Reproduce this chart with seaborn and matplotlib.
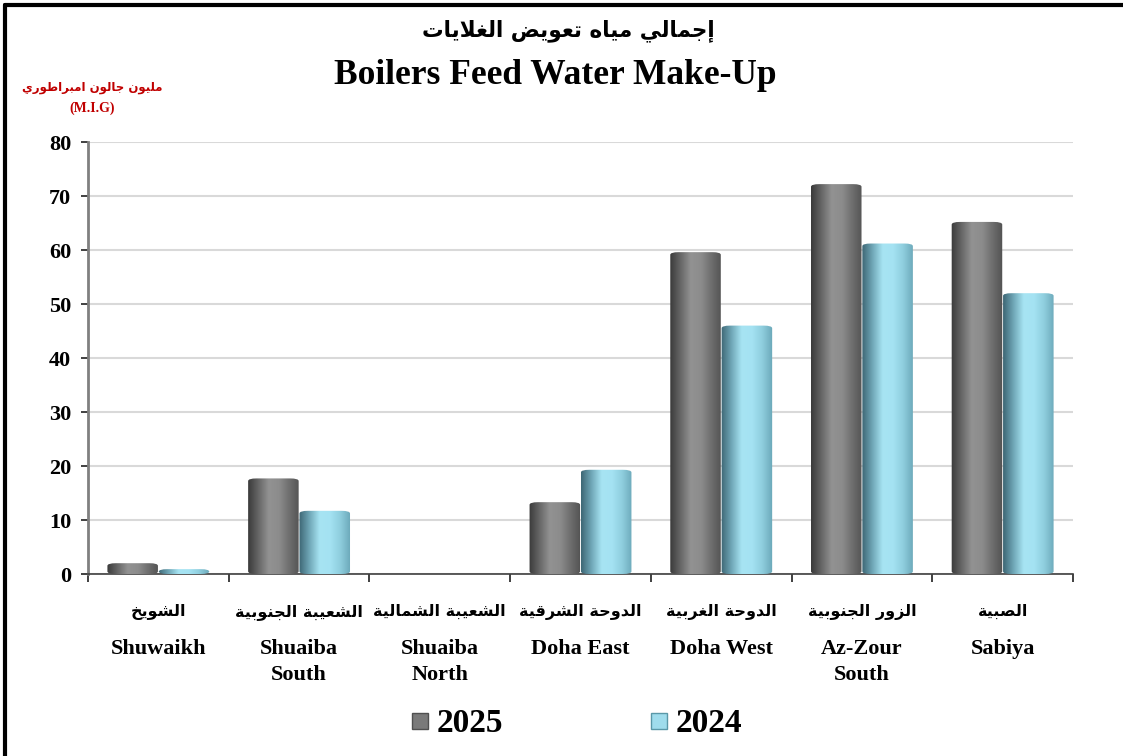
import numpy as np
import pandas as pd
import matplotlib
matplotlib.use("Agg")
import matplotlib.pyplot as plt
import seaborn as sns
from matplotlib.colors import LinearSegmentedColormap
from matplotlib.patches import FancyBboxPatch
from matplotlib.lines import Line2D

# ---------------- data ----------------
stations_ar = ["الشويخ", "الشعيبة الجنوبية", "الشعيبة الشمالية", "الدوحة الشرقية",
               "الدوحة الغربية", "الزور الجنوبية", "الصبية"]
stations_en = ["Shuwaikh", "Shuaiba\nSouth", "Shuaiba\nNorth", "Doha East",
               "Doha West", "Az-Zour\nSouth", "Sabiya"]
years = ["2025", "2024"]
values_2025 = [2.0, 17.7, 0.0, 13.3, 59.6, 72.2, 65.2]
values_2024 = [0.9, 11.7, 0.0, 19.3, 46.0, 61.2, 52.0]
yticks = [0, 10, 20, 30, 40, 50, 60, 70, 80]

title_ar = "إجمالي مياه تعويض الغلايات"
title_en = "Boilers Feed Water Make-Up"
unit_ar = "مليون جالون امبراطوري"
unit_en = "(M.I.G)"

# ------------- minimal Arabic shaping for display -------------
FORMS = {  # isolated, final, initial, medial
    "ا": ("\uFE8D", "\uFE8E", None, None),
    "إ": ("\uFE87", "\uFE88", None, None),
    "ب": ("\uFE8F", "\uFE90", "\uFE91", "\uFE92"),
    "ة": ("\uFE93", "\uFE94", None, None),
    "ت": ("\uFE95", "\uFE96", "\uFE97", "\uFE98"),
    "ج": ("\uFE9D", "\uFE9E", "\uFE9F", "\uFEA0"),
    "ح": ("\uFEA1", "\uFEA2", "\uFEA3", "\uFEA4"),
    "خ": ("\uFEA5", "\uFEA6", "\uFEA7", "\uFEA8"),
    "د": ("\uFEA9", "\uFEAA", None, None),
    "ر": ("\uFEAD", "\uFEAE", None, None),
    "ز": ("\uFEAF", "\uFEB0", None, None),
    "ش": ("\uFEB5", "\uFEB6", "\uFEB7", "\uFEB8"),
    "ص": ("\uFEB9", "\uFEBA", "\uFEBB", "\uFEBC"),
    "ض": ("\uFEBD", "\uFEBE", "\uFEBF", "\uFEC0"),
    "ط": ("\uFEC1", "\uFEC2", "\uFEC3", "\uFEC4"),
    "ع": ("\uFEC9", "\uFECA", "\uFECB", "\uFECC"),
    "غ": ("\uFECD", "\uFECE", "\uFECF", "\uFED0"),
    "ق": ("\uFED5", "\uFED6", "\uFED7", "\uFED8"),
    "ل": ("\uFEDD", "\uFEDE", "\uFEDF", "\uFEE0"),
    "م": ("\uFEE1", "\uFEE2", "\uFEE3", "\uFEE4"),
    "ن": ("\uFEE5", "\uFEE6", "\uFEE7", "\uFEE8"),
    "ه": ("\uFEE9", "\uFEEA", "\uFEEB", "\uFEEC"),
    "و": ("\uFEED", "\uFEEE", None, None),
    "ي": ("\uFEF1", "\uFEF2", "\uFEF3", "\uFEF4"),
    "لا": ("\uFEFB", "\uFEFC", None, None),
}


def shape_ar(text):
    words = []
    for w in text.split(" "):
        units = []
        i = 0
        while i < len(w):
            if w[i] == "ل" and i + 1 < len(w) and w[i + 1] == "ا":
                units.append("لا")
                i += 2
            else:
                units.append(w[i])
                i += 1
        out = []
        for k, u in enumerate(units):
            f = FORMS.get(u)
            if f is None:
                out.append(u)
                continue
            prev = FORMS.get(units[k - 1]) if k > 0 else None
            nxt = FORMS.get(units[k + 1]) if k + 1 < len(units) else None
            join_prev = prev is not None and prev[2] is not None
            join_next = nxt is not None and f[2] is not None
            if join_prev and join_next:
                out.append(f[3])
            elif join_prev:
                out.append(f[1])
            elif join_next:
                out.append(f[2])
            else:
                out.append(f[0])
        words.append("".join(out))
    return " ".join(words)[::-1]


# ---------------- figure ----------------
sns.set_theme(style="white")
plt.rcParams["font.family"] = ["Liberation Serif", "DejaVu Sans"]
plt.rcParams["font.weight"] = "bold"
plt.rcParams["text.color"] = "black"
plt.rcParams["xtick.color"] = "black"
plt.rcParams["ytick.color"] = "black"
plt.rcParams["axes.labelcolor"] = "black"

fig = plt.figure(figsize=(11.23, 7.56), dpi=100)
ax = fig.add_axes([88 / 1123, 1 - 574 / 756, (1073 - 88) / 1123, (574 - 142) / 756])

df = pd.DataFrame({
    "station": stations_en * 2,
    "year": [years[0]] * len(stations_en) + [years[1]] * len(stations_en),
    "value": values_2025 + values_2024,
})
base_colors = {"2025": "#7a7a7a", "2024": "#8fd3e3"}
sns.barplot(data=df, x="station", y="value", hue="year", hue_order=years,
            palette=base_colors, width=0.73, gap=0, legend=False, ax=ax,
            edgecolor="none", saturation=1, zorder=2)

cmaps = {
    "2025": LinearSegmentedColormap.from_list(
        "g", ["#3a3a3a", "#666666", "#929292", "#8c8c8c", "#6e6e6e", "#525252"]),
    "2024": LinearSegmentedColormap.from_list(
        "b", ["#3d6674", "#6fa6b6", "#a7e4f3", "#a4e2f2", "#8ecddd", "#6aa7b8"]),
}
grad = np.linspace(0, 1, 256).reshape(1, -1)
n = len(stations_en)
for idx, p in enumerate(ax.patches[:2 * n]):
    yr = years[idx // n]
    x0, w, h = p.get_x(), p.get_width(), p.get_height()
    p.set_visible(False)
    if h <= 0:
        continue
    clip = FancyBboxPatch((x0 + 0.003, 0), w - 0.006, h,
                          boxstyle="round,pad=0,rounding_size=0.06",
                          mutation_aspect=8.0,
                          transform=ax.transData, facecolor="none", edgecolor="none")
    ax.add_patch(clip)
    im = ax.imshow(grad, cmap=cmaps[yr], aspect="auto",
                   extent=[x0, x0 + w, 0, h], zorder=3, interpolation="bicubic")
    im.set_clip_path(clip)

ax.set_xlim(-0.5, n - 0.5)
ax.set_ylim(0, 80)
ax.set_yticks(yticks)
ax.set_yticklabels([str(t) for t in yticks], fontsize=16, fontweight="bold")
ax.set_xticks(np.arange(-0.5, n, 1.0))
ax.set_xticklabels([])
ax.set_xlabel("")
ax.set_ylabel("")
ax.yaxis.grid(True, color="#d9d9d9", linewidth=1.5, zorder=0)
ax.set_axisbelow(True)
for s in ["top", "right"]:
    ax.spines[s].set_visible(False)
ax.spines["left"].set_color("#808080")
ax.spines["left"].set_linewidth(2)
ax.spines["bottom"].set_color("#404040")
ax.spines["bottom"].set_linewidth(1.2)
ax.tick_params(axis="y", left=True, length=5, width=1.2, color="#202020", pad=7)
ax.tick_params(axis="x", bottom=True, length=6, width=1.2, color="#202020")

# category labels
for i in range(n):
    ax.text(i, -7.0, shape_ar(stations_ar[i]), ha="center", va="center",
            fontsize=11.5, fontweight="bold", family=["DejaVu Sans"],
            transform=ax.transData, clip_on=False)
    ax.text(i, -12.0, stations_en[i], ha="center", va="top", fontsize=16,
            fontweight="bold", linespacing=1.4, transform=ax.transData,
            clip_on=False)

# titles
fig.text(568 / 1123, 1 - 31 / 756, shape_ar(title_ar), ha="center", va="center",
         fontsize=15.5, fontweight="bold", family=["DejaVu Sans"])
fig.text(555 / 1123, 1 - 75 / 756, title_en, ha="center", va="center",
         fontsize=25.5, fontweight="bold")
fig.text(92 / 1123, 1 - 88 / 756, shape_ar(unit_ar), ha="center", va="center",
         fontsize=8.5, fontweight="bold", color="#c00000", family=["DejaVu Sans"])
fig.text(92 / 1123, 1 - 108 / 756, unit_en, ha="center", va="center",
         fontsize=10, fontweight="bold", color="#c00000")

# legend
handles = [Line2D([0], [0], marker="s", linestyle="none", markersize=11,
                  markerfacecolor=c, markeredgecolor=e, markeredgewidth=1)
           for c, e in [("#7a7a7a", "#505050"), ("#9fdcec", "#5a98a8")]]
fig.legend(handles, years, loc="center", bbox_to_anchor=(0.513, 1 - 724 / 756),
           ncol=2, frameon=False, columnspacing=4.4, handletextpad=0.2,
           handlelength=0.6, prop={"size": 24, "weight": "bold",
                                   "family": "Liberation Serif"})

# figure border (top and left visible)
fig.add_artist(Line2D([5 / 1123, 1.0], [1 - 5 / 756, 1 - 5 / 756],
                      transform=fig.transFigure, color="black", linewidth=3))
fig.add_artist(Line2D([5 / 1123, 5 / 1123], [0.0, 1 - 5 / 756],
                      transform=fig.transFigure, color="black", linewidth=3))

fig.savefig("out.png", dpi=100, facecolor="white")
